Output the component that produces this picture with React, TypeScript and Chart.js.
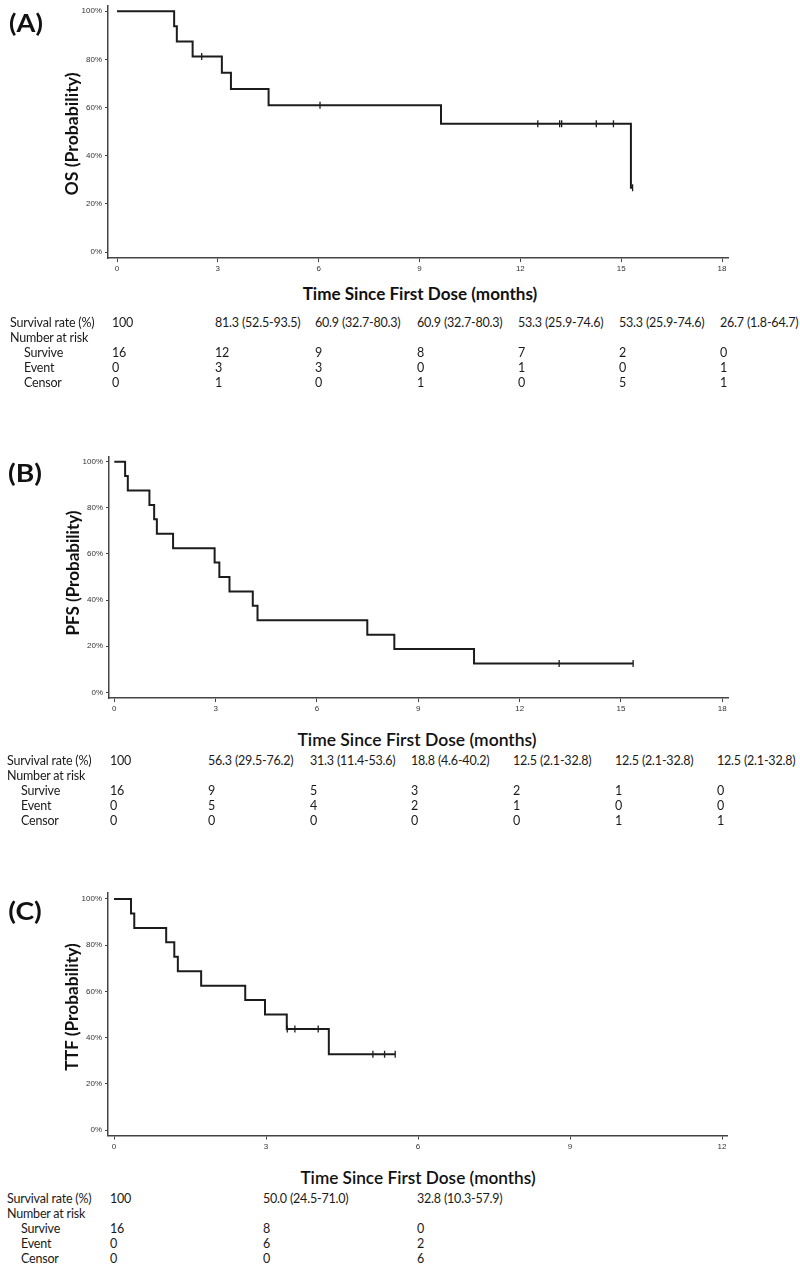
import React, { useEffect, useLayoutEffect, useRef } from 'react';
import { Chart, registerables } from 'chart.js';

Chart.register(...registerables);

// ---------- Panel A: OS ----------
const osTimes = [0, 1.7, 1.78, 2.25, 3.12, 3.39, 4.51, 9.64, 15.29, 15.34];
const osSurv = [100, 93.75, 87.5, 81.25, 74.48, 67.71, 60.94, 53.32, 26.66, 26.66];
const osCensorTimes = [2.52, 6.04, 12.52, 13.17, 13.23, 14.26, 14.77, 15.34];
const osCensorSurv = [81.25, 60.94, 53.32, 53.32, 53.32, 53.32, 53.32, 26.66];

// ---------- Panel B: PFS ----------
const pfsTimes = [0, 0.32, 0.4, 1.04, 1.18, 1.26, 1.74, 2.97, 3.11, 3.41, 4.1, 4.24, 7.49, 8.29, 10.65, 15.36];
const pfsSurv = [100, 93.75, 87.5, 81.25, 75, 68.75, 62.5, 56.25, 50, 43.75, 37.5, 31.25, 25, 18.75, 12.5, 12.5];
const pfsCensorTimes = [13.17, 15.36];
const pfsCensorSurv = [12.5, 12.5];

// ---------- Panel C: TTF ----------
const ttfTimes = [0, 0.336, 0.4, 1.03, 1.19, 1.26, 1.72, 2.59, 2.98, 3.41, 4.24, 5.55];
const ttfSurv = [100, 93.75, 87.5, 81.25, 75, 68.75, 62.5, 56.25, 50, 43.75, 32.81, 32.81];
const ttfCensorTimes = [3.42, 3.57, 4.03, 5.11, 5.34, 5.55];
const ttfCensorSurv = [43.75, 43.75, 43.75, 32.81, 32.81, 32.81];

// ---------- Axes ----------
const xTicks18 = [0, 3, 6, 9, 12, 15, 18];
const xTicks12 = [0, 3, 6, 9, 12];
const yTicks = [0, 20, 40, 60, 80, 100];

// ---------- Tables ----------
const rowLabels = ['Survival rate (%)', 'Number  at risk', 'Survive', 'Event', 'Censor'];

const osRate = ['100', '81.3 (52.5-93.5)', '60.9 (32.7-80.3)', '60.9 (32.7-80.3)', '53.3 (25.9-74.6)', '53.3 (25.9-74.6)', '26.7 (1.8-64.7)'];
const osSurvive = ['16', '12', '9', '8', '7', '2', '0'];
const osEvent = ['0', '3', '3', '0', '1', '0', '1'];
const osCensor = ['0', '1', '0', '1', '0', '5', '1'];

const pfsRate = ['100', '56.3 (29.5-76.2)', '31.3 (11.4-53.6)', '18.8 (4.6-40.2)', '12.5 (2.1-32.8)', '12.5 (2.1-32.8)', '12.5 (2.1-32.8)'];
const pfsSurvive = ['16', '9', '5', '3', '2', '1', '0'];
const pfsEvent = ['0', '5', '4', '2', '1', '0', '0'];
const pfsCensor = ['0', '0', '0', '0', '0', '1', '1'];

const ttfRate = ['100', '50.0 (24.5-71.0)', '32.8 (10.3-57.9)'];
const ttfSurvive = ['16', '8', '0'];
const ttfEvent = ['0', '6', '2'];
const ttfCensor = ['0', '0', '6'];

const TXT = 'Lato, "Open Sans", "Liberation Sans", sans-serif';
const TICKFONT = '"Liberation Sans Narrow", "Liberation Sans", Arial, sans-serif';

type Geom = {
  canvasTop: number; canvasH: number;
  left: number; right: number; top: number; bottom: number;
  x0px: number; xEndVal: number; xEndPx: number;
  y100px: number; y0px: number;
};

const geomA: Geom = { canvasTop: 0, canvasH: 282, left: 108, right: 728, top: 5, bottom: 258, x0px: 117, xEndVal: 18, xEndPx: 722, y100px: 11, y0px: 252 };
const geomB: Geom = { canvasTop: 440, canvasH: 282, left: 109, right: 728, top: 457, bottom: 698, x0px: 114.3, xEndVal: 18, xEndPx: 722.3, y100px: 461.7, y0px: 692.3 };
const geomC: Geom = { canvasTop: 876, canvasH: 282, left: 108, right: 727, top: 893, bottom: 1135.5, x0px: 114, xEndVal: 12, xEndPx: 722, y100px: 899, y0px: 1130 };

function KMChart(props: { g: Geom; times: number[]; surv: number[]; cTimes: number[]; cSurv: number[]; xTicks: number[] }) {
  const { g, times, surv, cTimes, cSurv, xTicks } = props;
  const ref = useRef<HTMLCanvasElement>(null);
  useEffect(() => {
    const xppu = (g.xEndPx - g.x0px) / g.xEndVal;
    const xmin = (g.left - g.x0px) / xppu;
    const xmax = g.xEndVal + (g.right - g.xEndPx) / xppu;
    const yppu = (g.y0px - g.y100px) / 100;
    const ymax = 100 + (g.y100px - g.top) / yppu;
    const ymin = -(g.bottom - g.y0px) / yppu;
    const axisColor = '#444';
    const chart = new Chart(ref.current as HTMLCanvasElement, {
      type: 'line',
      data: {
        datasets: [
          {
            data: times.map((t, i) => ({ x: t, y: surv[i] })),
            stepped: 'before',
            borderColor: '#1c1c1c',
            borderWidth: 2,
            pointRadius: 0,
            fill: false,
          } as any,
          {
            data: cTimes.map((t, i) => ({ x: t, y: cSurv[i] })),
            showLine: false,
            pointStyle: 'line',
            rotation: 90,
            pointRadius: 3.5,
            borderColor: '#1c1c1c',
            borderWidth: 1.3,
          } as any,
        ],
      },
      options: {
        animation: false,
        responsive: false,
        events: [],
        layout: { padding: { left: 0, top: g.top - g.canvasTop, right: 800 - g.right, bottom: 0 } },
        plugins: { legend: { display: false }, tooltip: { enabled: false } },
        scales: {
          x: {
            type: 'linear',
            min: xmin,
            max: xmax,
            afterBuildTicks: (s: any) => { s.ticks = xTicks.map((v) => ({ value: v })); },
            afterFit: (s: any) => {
              s.height = g.canvasTop + g.canvasH - g.bottom;
              s.paddingLeft = 0; s.paddingRight = 0;
            },
            grid: { display: true, drawOnChartArea: false, drawTicks: true, tickLength: 4, color: axisColor, lineWidth: 1 },
            border: { display: true, color: axisColor, width: 1.5 },
            ticks: { font: { size: 8, family: TICKFONT }, color: '#333', padding: 2, maxRotation: 0, autoSkip: false, callback: (v: any) => String(v) },
          },
          y: {
            type: 'linear',
            min: ymin,
            max: ymax,
            afterBuildTicks: (s: any) => { s.ticks = yTicks.map((v) => ({ value: v })); },
            afterFit: (s: any) => {
              s.width = g.left;
              s.paddingTop = 0; s.paddingBottom = 0;
            },
            grid: { display: true, drawOnChartArea: false, drawTicks: true, tickLength: 3, color: axisColor, lineWidth: 1 },
            border: { display: true, color: axisColor, width: 1.5 },
            ticks: { font: { size: 8, family: TICKFONT }, color: '#333', padding: 3, autoSkip: false, callback: (v: any) => v + '%' },
          },
        },
      } as any,
    });
    return () => chart.destroy();
  }, []);
  return (
    <canvas
      ref={ref}
      width={800}
      height={g.canvasH}
      style={{ position: 'absolute', left: 0, top: g.canvasTop, width: 800, height: g.canvasH }}
    />
  );
}

function FitText(props: { cx: number; cy: number; width: number; rotate?: boolean; style: React.CSSProperties; children: React.ReactNode }) {
  const { cx, cy, width, rotate, style, children } = props;
  const ref = useRef<HTMLSpanElement>(null);
  useLayoutEffect(() => {
    const el = ref.current;
    if (!el) return;
    const w = el.offsetWidth;
    const s = w > 0 ? width / w : 1;
    el.style.transform = `translate(-50%, -50%)${rotate ? ' rotate(-90deg)' : ''} scaleX(${s})`;
  }, []);
  return (
    <span
      ref={ref}
      style={{ position: 'absolute', left: cx, top: cy, whiteSpace: 'nowrap', lineHeight: 1, transform: 'translate(-50%, -50%)', ...style }}
    >
      {children}
    </span>
  );
}

function Cell(props: { x: number; y: number; text: string }) {
  return (
    <span
      style={{
        position: 'absolute', left: props.x, top: props.y, transform: 'translateY(-50%)',
        fontFamily: TXT, fontSize: 12.5, lineHeight: 1, color: '#1a1a1a', whiteSpace: 'nowrap',
        letterSpacing: -0.2,
      }}
    >
      {props.text}
    </span>
  );
}

function Table(props: { labelX: number; indentX: number; cols: number[]; rows: number[]; rate: string[]; survive: string[]; event: string[]; censor: string[] }) {
  const { labelX, indentX, cols, rows, rate, survive, event, censor } = props;
  const out: React.ReactNode[] = [];
  rowLabels.forEach((l, i) => {
    out.push(<Cell key={'l' + i} x={i < 2 ? labelX : indentX} y={rows[i]} text={l} />);
  });
  const series = [rate, null, survive, event, censor];
  series.forEach((arr, ri) => {
    if (!arr) return;
    arr.forEach((v, ci) => out.push(<Cell key={`c${ri}-${ci}`} x={cols[ci]} y={rows[ri]} text={v} />));
  });
  return <>{out}</>;
}

const boldTitle: React.CSSProperties = { fontFamily: TXT, fontWeight: 700, fontSize: 16.5, color: '#111' };
const semiTitle: React.CSSProperties = { fontFamily: TXT, fontWeight: 600, fontSize: 17, color: '#111' };
const panelLbl: React.CSSProperties = { fontFamily: TXT, fontWeight: 700, fontSize: 24, color: '#111' };

export default function App() {
  return (
    <div style={{ position: 'absolute', left: 0, top: 0, width: 800, height: 1266, background: '#fff', overflow: 'hidden' }}>
      <KMChart g={geomA} times={osTimes} surv={osSurv} cTimes={osCensorTimes} cSurv={osCensorSurv} xTicks={xTicks18} />
      <KMChart g={geomB} times={pfsTimes} surv={pfsSurv} cTimes={pfsCensorTimes} cSurv={pfsCensorSurv} xTicks={xTicks18} />
      <KMChart g={geomC} times={ttfTimes} surv={ttfSurv} cTimes={ttfCensorTimes} cSurv={ttfCensorSurv} xTicks={xTicks12} />

      <FitText cx={25.5} cy={23} width={34} style={panelLbl}>(A)</FitText>
      <FitText cx={25} cy={472.5} width={34} style={panelLbl}>(B)</FitText>
      <FitText cx={25} cy={911} width={34} style={panelLbl}>(C)</FitText>

      <FitText cx={72} cy={133.5} width={123} rotate style={boldTitle}>OS (Probability)</FitText>
      <FitText cx={72.5} cy={572.5} width={125} rotate style={boldTitle}>PFS (Probability)</FitText>
      <FitText cx={71.5} cy={1006.5} width={127} rotate style={boldTitle}>TTF (Probability)</FitText>

      <FitText cx={419.5} cy={294} width={235} style={boldTitle}>Time Since First Dose (months)</FitText>
      <FitText cx={417} cy={739} width={239} style={semiTitle}>Time Since First Dose (months)</FitText>
      <FitText cx={418} cy={1177} width={235} style={semiTitle}>Time Since First Dose (months)</FitText>

      <Table labelX={10} indentX={24} cols={[112, 215, 315, 417, 518, 619, 720]} rows={[322.5, 337.5, 352.5, 367.5, 382.5]}
        rate={osRate} survive={osSurvive} event={osEvent} censor={osCensor} />
      <Table labelX={7} indentX={21} cols={[110, 208, 310, 411, 513, 615, 717]} rows={[760.5, 775.5, 790.5, 805.5, 820.5]}
        rate={pfsRate} survive={pfsSurvive} event={pfsEvent} censor={pfsCensor} />
      <Table labelX={7} indentX={21} cols={[110, 263, 417]} rows={[1198.5, 1213.5, 1228.5, 1243.5, 1258.5]}
        rate={ttfRate} survive={ttfSurvive} event={ttfEvent} censor={ttfCensor} />
    </div>
  );
}
